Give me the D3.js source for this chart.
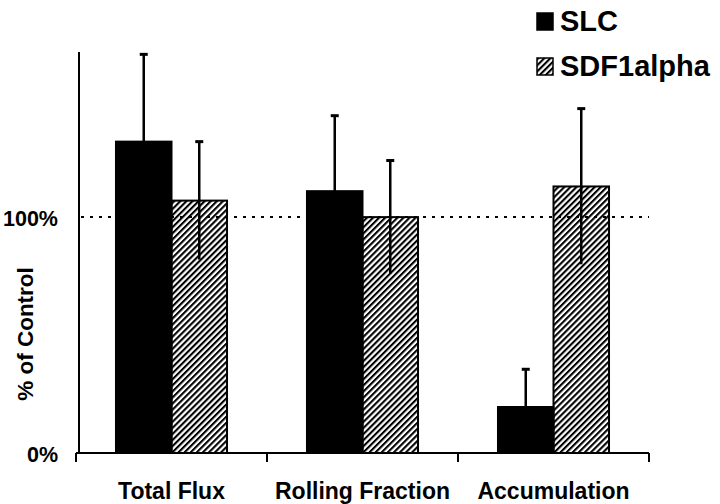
<!DOCTYPE html>
<html>
<head>
<meta charset="utf-8">
<script src="https://cdn.jsdelivr.net/npm/d3@7"></script>
<style>
  body { margin: 0; background: #fff; }
  text { font-family: "Liberation Sans", Arial, sans-serif; font-weight: bold; fill: #000; }
</style>
</head>
<body>
<div id="chart"></div>
<script>
// data (% of control)
const categories = ["Total Flux", "Rolling Fraction", "Accumulation"];
const seriesNames = ["SLC", "SDF1alpha"];
const slcValues = [132, 111, 19.5];
const slcErrors = [37, 32, 16];
const sdfValues = [107, 100, 113];
const sdfErrors = [25, 24, 33];
const yTickValues = [0, 100];
const yTickLabels = ["0%", "100%"];

const width = 720, height = 504;
const margin = { top: 52, right: 71, bottom: 51, left: 76 };

const svg = d3.select("#chart")
    .append("svg")
    .attr("width", width)
    .attr("height", height);

// hatch pattern for SDF1alpha
const defs = svg.append("defs");
defs.append("pattern")
    .attr("id", "hatch")
    .attr("patternUnits", "userSpaceOnUse")
    .attr("width", 4.3)
    .attr("height", 4.3)
    .attr("patternTransform", "rotate(45)")
    .append("rect")
    .attr("x", 0)
    .attr("y", 0)
    .attr("width", 2.1)
    .attr("height", 4.3)
    .attr("fill", "#000");

const x = d3.scaleBand()
    .domain(categories)
    .range([margin.left, width - margin.right]);

const xInner = d3.scaleBand()
    .domain(seriesNames)
    .range([0, x.bandwidth()])
    .paddingOuter(0.72);

const y = d3.scaleLinear()
    .domain([0, 170])
    .range([height - margin.bottom, margin.top]);

const rows = categories.map((c, i) => ({
    cat: c,
    bars: [
        { name: "SLC", value: slcValues[i], err: slcErrors[i] },
        { name: "SDF1alpha", value: sdfValues[i], err: sdfErrors[i] }
    ]
}));

// dotted 100% reference line
svg.append("line")
    .attr("x1", margin.left + 5)
    .attr("x2", width - margin.right)
    .attr("y1", y(100))
    .attr("y2", y(100))
    .attr("stroke", "#000")
    .attr("stroke-width", 2)
    .attr("stroke-dasharray", "3,6");

const groups = svg.selectAll(".group")
    .data(rows)
    .enter()
    .append("g")
    .attr("class", "group")
    .attr("transform", d => `translate(${x(d.cat)},0)`);

// bars
groups.selectAll("rect")
    .data(d => d.bars)
    .enter()
    .append("rect")
    .attr("x", d => xInner(d.name))
    .attr("y", d => y(d.value))
    .attr("width", xInner.bandwidth())
    .attr("height", d => y(0) - y(d.value))
    .attr("fill", d => d.name === "SLC" ? "#000" : "url(#hatch)")
    .attr("stroke", "#000")
    .attr("stroke-width", 2);

// error bars
const err = groups.selectAll(".err")
    .data(d => d.bars)
    .enter()
    .append("g")
    .attr("class", "err")
    .attr("transform", d => `translate(${xInner(d.name) + xInner.bandwidth() / 2},0)`);

err.append("line")
    .attr("y1", d => y(d.value - d.err))
    .attr("y2", d => y(d.value + d.err))
    .attr("stroke", "#000")
    .attr("stroke-width", 2.5);

err.append("line")
    .attr("x1", -4)
    .attr("x2", 4)
    .attr("y1", d => y(d.value + d.err))
    .attr("y2", d => y(d.value + d.err))
    .attr("stroke", "#000")
    .attr("stroke-width", 3);

// x axis
const xAxis = svg.append("g")
    .attr("transform", `translate(0,${y(0)})`);
xAxis.append("line")
    .attr("x1", margin.left)
    .attr("x2", width - margin.right)
    .attr("stroke", "#000")
    .attr("stroke-width", 2);
const boundaries = categories.map(c => x(c)).concat([x.range()[1]]);
xAxis.selectAll(".tick")
    .data(boundaries)
    .enter()
    .append("line")
    .attr("x1", d => d)
    .attr("x2", d => d)
    .attr("y1", 0)
    .attr("y2", 9)
    .attr("stroke", "#000")
    .attr("stroke-width", 2);
xAxis.selectAll(".label")
    .data(categories)
    .enter()
    .append("text")
    .attr("x", d => x(d) + x.bandwidth() / 2)
    .attr("y", 46)
    .attr("text-anchor", "middle")
    .attr("font-size", 23)
    .text(d => d);

// y axis
svg.append("line")
    .attr("x1", margin.left + 3)
    .attr("x2", margin.left + 3)
    .attr("y1", margin.top)
    .attr("y2", y(0))
    .attr("stroke", "#000")
    .attr("stroke-width", 2);
svg.selectAll(".ylab")
    .data(yTickValues)
    .enter()
    .append("text")
    .attr("x", 58)
    .attr("y", d => y(d) + 9)
    .attr("text-anchor", "end")
    .attr("font-size", 21.5)
    .text((d, i) => yTickLabels[i]);

svg.append("text")
    .attr("transform", "translate(33,334) rotate(-90)")
    .attr("text-anchor", "middle")
    .attr("font-size", 22.5)
    .text("% of Control");

// legend
const legend = svg.selectAll(".legend")
    .data(seriesNames)
    .enter()
    .append("g")
    .attr("transform", (d, i) => `translate(537,${13 + i * 45})`);
legend.append("rect")
    .attr("width", 16)
    .attr("height", 17)
    .attr("fill", d => d === "SLC" ? "#000" : "url(#hatch)")
    .attr("stroke", "#000")
    .attr("stroke-width", 1.5);
legend.append("text")
    .attr("x", 23)
    .attr("y", 18)
    .attr("font-size", 29)
    .text(d => d);
</script>
</body>
</html>
